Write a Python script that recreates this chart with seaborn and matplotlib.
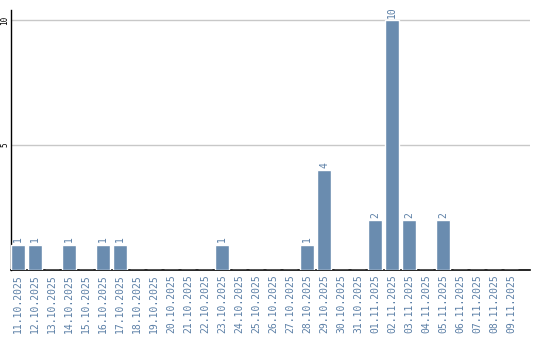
import matplotlib
matplotlib.use("Agg")
import matplotlib.pyplot as plt
import seaborn as sns
import pandas as pd

dates = ["11.10.2025", "12.10.2025", "13.10.2025", "14.10.2025", "15.10.2025",
         "16.10.2025", "17.10.2025", "18.10.2025", "19.10.2025", "20.10.2025",
         "21.10.2025", "22.10.2025", "23.10.2025", "24.10.2025", "25.10.2025",
         "26.10.2025", "27.10.2025", "28.10.2025", "29.10.2025", "30.10.2025",
         "31.10.2025", "01.11.2025", "02.11.2025", "03.11.2025", "04.11.2025",
         "05.11.2025", "06.11.2025", "07.11.2025", "08.11.2025", "09.11.2025"]
values = [1, 1, 0, 1, 0, 1, 1, 0, 0, 0, 0, 0, 1, 0, 0, 0, 0, 1, 4, 0, 0, 2, 10, 2, 0, 2, 0, 0, 0, 0]
yticks = [5, 10]

sns.set_theme(style="white")
plt.rcParams['font.family'] = ['DejaVu Sans Mono', 'DejaVu Sans']

df = pd.DataFrame({"date": dates, "value": values})
fig = plt.figure(figsize=(5.4, 3.4), dpi=100)
ax = fig.add_axes([11/540, 70/340, 519/540, 260/340])

bar_color = "#6a8caf"
text_color = "#5b7fa6"
sns.barplot(data=df, x="date", y="value", color=bar_color, width=0.82,
            saturation=1, ax=ax, zorder=3)

for i, v in enumerate(values):
    if v > 0:
        ax.text(i, v + 0.1, str(v), rotation=90, ha="center", va="bottom",
                fontsize=7, color=text_color)

ax.set_xlim(-0.41, 30.1)
ax.set_ylim(0, 10.4)
ax.set_yticks(yticks)
ax.set_yticklabels([str(t) for t in yticks], rotation=90, fontsize=5.5,
                   va="center", color="black")
ax.tick_params(axis="y", length=0, pad=1)
ax.tick_params(axis="x", length=0, pad=3)
ax.set_xticks(range(len(dates)))
ax.set_xticklabels(dates, rotation=90, fontsize=7, color=text_color)
ax.yaxis.grid(True, color="#c8c8c8", linewidth=1, zorder=0)
ax.set_xlabel("")
ax.set_ylabel("")
for s in ["top", "right"]:
    ax.spines[s].set_visible(False)
ax.spines["left"].set_color("black")
ax.spines["bottom"].set_color("black")
ax.spines["left"].set_linewidth(1)
ax.spines["bottom"].set_linewidth(1.2)

fig.savefig("out.png", dpi=100)
